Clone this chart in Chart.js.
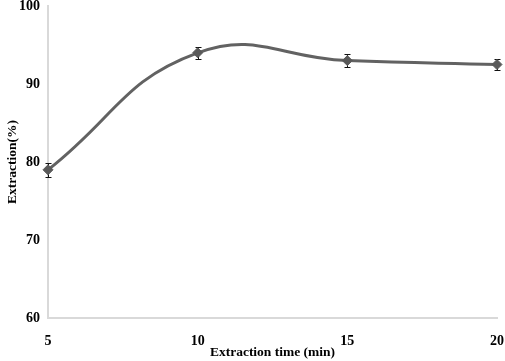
<!DOCTYPE html>
<html>
<head>
<meta charset="utf-8">
<script src="https://cdn.jsdelivr.net/npm/chart.js@4"></script>
<style>
  html, body { margin: 0; padding: 0; background: #fff; }
  #wrap { width: 505px; height: 361px; }
</style>
</head>
<body>
<div id="wrap"><canvas id="chart" width="505" height="361"></canvas></div>
<script>
// extraction time (min) vs extraction (%)
const times = [5, 10, 15, 20];
const extraction = [79.0, 94.0, 93.0, 92.5];
const errors = [0.9, 0.8, 0.8, 0.7];
const yTicks = [60, 70, 80, 90, 100];

const fontFamily = '"Liberation Serif", "Times New Roman", serif';

// Draw the error bars from the errors array through the chart scales
const errorBars = {
  id: 'errorBars',
  afterDatasetsDraw(chart) {
    const ctx = chart.ctx;
    const xScale = chart.scales.x;
    const yScale = chart.scales.y;
    ctx.save();
    ctx.strokeStyle = '#111';
    ctx.lineWidth = 1;
    times.forEach((t, i) => {
      const x = Math.round(xScale.getPixelForValue(t)) + 0.5;
      const top = Math.round(yScale.getPixelForValue(extraction[i] + errors[i])) + 0.5;
      const bot = Math.round(yScale.getPixelForValue(extraction[i] - errors[i])) + 0.5;
      ctx.beginPath();
      ctx.moveTo(x, top);
      ctx.lineTo(x, bot);
      ctx.moveTo(x - 3, top);
      ctx.lineTo(x + 3, top);
      ctx.moveTo(x - 3, bot);
      ctx.lineTo(x + 3, bot);
      ctx.stroke();
    });
    ctx.restore();
  }
};

// diamond markers drawn on top of the error bars
const markersOnTop = {
  id: 'markersOnTop',
  afterDraw(chart) {
    const meta = chart.getDatasetMeta(0);
    const ctx = chart.ctx;
    ctx.save();
    ctx.fillStyle = '#595959';
    ctx.strokeStyle = '#595959';
    meta.data.forEach((pt) => {
      Chart.helpers.drawPoint(ctx, {
        pointStyle: 'rectRot',
        radius: 5,
        borderWidth: 1,
        rotation: 0,
      }, pt.x, pt.y);
    });
    ctx.restore();
  }
};

const ctx = document.getElementById('chart').getContext('2d');
new Chart(ctx, {
  type: 'line',
  data: {
    datasets: [
      {
        data: times.map((t, i) => ({ x: t, y: extraction[i] })),
        borderColor: '#626262',
        backgroundColor: '#595959',
        borderWidth: 3,
        tension: 0.45,
        pointRadius: 0,
        pointHoverRadius: 0,
        fill: false,
      },
    ],
  },
  options: {
    responsive: false,
    animation: false,
    layout: { padding: 0 },
    plugins: {
      legend: { display: false },
      tooltip: { enabled: false },
    },
    scales: {
      x: {
        type: 'linear',
        min: 5,
        max: 20,
        afterBuildTicks: (axis) => { axis.ticks = times.map((v) => ({ value: v })); },
        afterFit: (axis) => { axis.height = 43; axis.paddingRight = 8; },
        grid: { display: false, drawTicks: false },
        border: { display: true, color: '#d9d9d9', width: 2 },
        ticks: {
          color: '#000',
          padding: 15,
          maxRotation: 0,
          font: { family: fontFamily, size: 14, weight: 'bold' },
        },
        title: {
          display: true,
          text: 'Extraction time (min)',
          color: '#000',
          padding: { top: 0, bottom: 0 },
          font: { family: fontFamily, size: 13.5, weight: 'bold' },
        },
      },
      y: {
        min: 60,
        max: 100,
        afterBuildTicks: (axis) => { axis.ticks = yTicks.map((v) => ({ value: v })); },
        afterFit: (axis) => { axis.width = 48; axis.paddingTop = 6; axis.paddingBottom = 0; },
        grid: { display: false, drawTicks: false },
        border: { display: true, color: '#d9d9d9', width: 2 },
        ticks: {
          color: '#000',
          padding: 8,
          font: { family: fontFamily, size: 14, weight: 'bold' },
        },
        title: {
          display: true,
          text: 'Extraction(%)',
          color: '#000',
          padding: { top: 4, bottom: 0 },
          font: { family: fontFamily, size: 13.5, weight: 'bold' },
        },
      },
    },
  },
  plugins: [errorBars, markersOnTop],
});
</script>
</body>
</html>
